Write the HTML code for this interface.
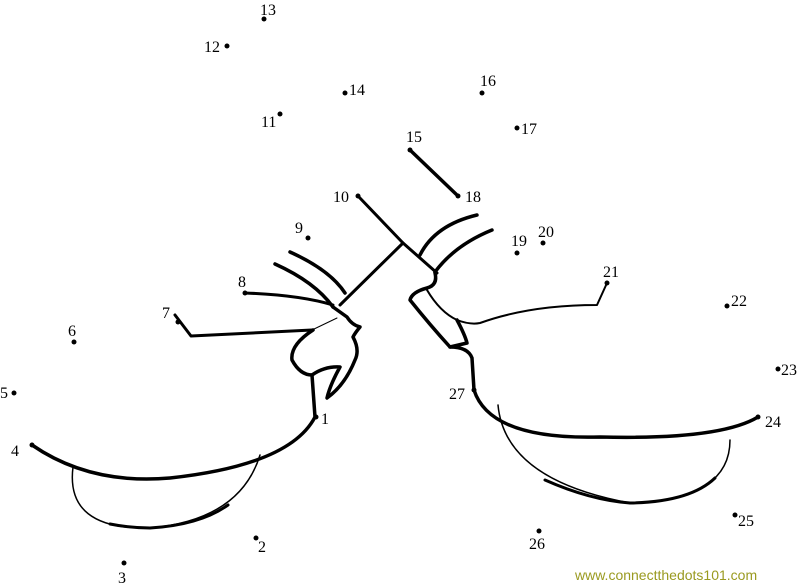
<!DOCTYPE html>
<html><head><style>
html,body{margin:0;padding:0;background:#fff;}
svg{display:block;}
text{font-family:"Liberation Serif",serif;font-size:16px;fill:#000;}
</style></head><body>
<svg width="800" height="585" viewBox="0 0 800 585">
<g fill="none" stroke="#000" stroke-linecap="round" stroke-linejoin="round">
<path d="M410,150 L458,196" stroke-width="3.5"/>
<path d="M358,196 L403,243 L437,273" stroke-width="3"/>
<path d="M403,243 L340,305" stroke-width="3"/>
<path d="M290,252 Q330,270 345,293" stroke-width="3.5"/>
<path d="M275,264 Q315,282 333,307" stroke-width="3.5"/>
<path d="M245,293 Q300,295 333,305" stroke-width="3"/>
<path d="M175,315 L191,336 L312,330" stroke-width="3"/>
<path d="M312,330 L337,318" stroke-width="1"/>
<path d="M333,307 L347,317 Q352,325 360,327 Q355,333 353,337 Q360,350 355,360 Q345,385 327,398 Q330,385 340,367 Q325,366 312,375 Q300,375 292,360 Q290,345 313,330" stroke-width="3.5"/>
<path d="M312,375 L315,417" stroke-width="3.5"/>
<path d="M32,445 Q90,485 170,478 Q290,465 315,417" stroke-width="3.5"/>
<path d="M73,467 Q65,530 150,528 Q240,520 260,455" stroke-width="1.5"/>
<path d="M110,524 Q130,528 150,528 Q200,525 228,505" stroke-width="3"/>
<path d="M420,255 Q435,225 477,215" stroke-width="3.5"/>
<path d="M435,272 Q455,245 492,230" stroke-width="3.5"/>
<path d="M435,273 Q438,285 427,288 Q412,292 410,300 Q430,325 450,347 L467,343 Q465,335 457,320" stroke-width="3.5"/>
<path d="M427,290 Q440,312 457,320 Q470,325 480,323 Q530,305 597,305 L607,283" stroke-width="2"/>
<path d="M450,347 Q468,347 472,358 L474,390 Q490,440 600,437 Q720,440 758,417" stroke-width="3.5"/>
<path d="M498,405 Q505,480 630,503 Q730,500 730,440" stroke-width="1.5"/>
<path d="M545,480 Q590,500 630,503 Q690,502 715,478" stroke-width="3"/>
</g>
<g fill="#000">
<circle cx="316" cy="417" r="2.5"/><circle cx="256" cy="538" r="2.5"/><circle cx="124" cy="563" r="2.5"/>
<circle cx="32" cy="445" r="2.5"/><circle cx="14" cy="393" r="2.5"/><circle cx="74" cy="342" r="2.5"/>
<circle cx="178" cy="322" r="2.5"/><circle cx="245" cy="293" r="2.5"/><circle cx="308" cy="238" r="2.5"/>
<circle cx="358" cy="196" r="2.5"/><circle cx="280" cy="114" r="2.5"/><circle cx="227" cy="46" r="2.5"/>
<circle cx="264" cy="19" r="2.5"/><circle cx="345" cy="93" r="2.5"/><circle cx="410" cy="150" r="2.5"/>
<circle cx="482" cy="93" r="2.5"/><circle cx="517" cy="128" r="2.5"/><circle cx="458" cy="196" r="2.5"/>
<circle cx="517" cy="253" r="2.5"/><circle cx="543" cy="243" r="2.5"/><circle cx="607" cy="283" r="2.5"/>
<circle cx="727" cy="306" r="2.5"/><circle cx="778" cy="369" r="2.5"/><circle cx="758" cy="417" r="2.5"/>
<circle cx="735" cy="515" r="2.5"/><circle cx="539" cy="531" r="2.5"/><circle cx="474" cy="390" r="2.5"/>
</g>
<text x="321" y="424">1</text><text x="258" y="552">2</text><text x="118" y="583">3</text>
<text x="11" y="456">4</text><text x="0" y="398">5</text><text x="68" y="336">6</text>
<text x="162" y="318">7</text><text x="238" y="287">8</text><text x="295" y="233">9</text>
<text x="333" y="202">10</text><text x="261" y="127">11</text><text x="204" y="52">12</text>
<text x="260" y="15">13</text><text x="349" y="95">14</text><text x="406" y="142">15</text>
<text x="480" y="86">16</text><text x="521" y="134">17</text><text x="465" y="202">18</text>
<text x="511" y="246">19</text><text x="538" y="237">20</text><text x="603" y="277">21</text>
<text x="731" y="306">22</text><text x="781" y="375">23</text><text x="765" y="427">24</text>
<text x="738" y="526">25</text><text x="529" y="549">26</text><text x="449" y="399">27</text>
<text x="575" y="580" style="font-family:'Liberation Sans',sans-serif;font-size:14px;fill:#9a9a20">www.connectthedots101.com</text>
</svg>
</body></html>
